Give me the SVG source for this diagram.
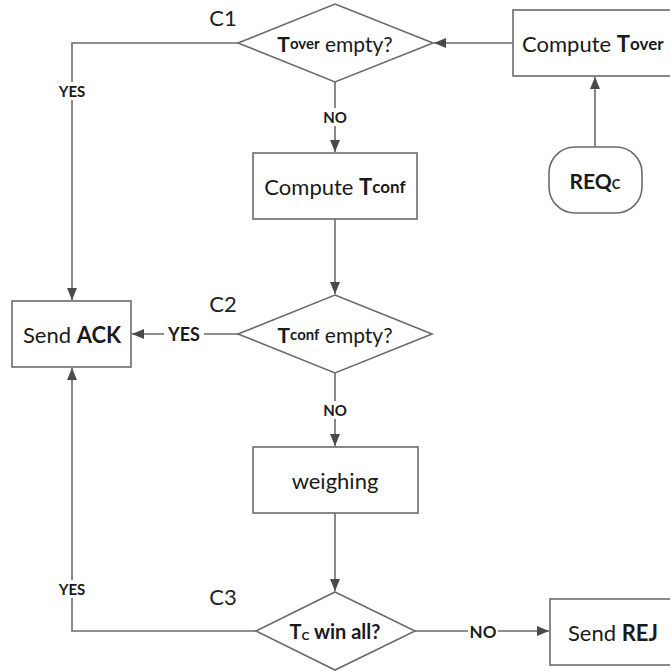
<svg xmlns="http://www.w3.org/2000/svg" width="670" height="672" viewBox="0 0 670 672">
  <style>
    .box { fill: #ffffff; stroke: #6b6b6b; stroke-width: 1.6; }
    .edge { fill: none; stroke: #6b6b6b; stroke-width: 1.6; }
    .t { font-family: Lato, "Liberation Sans", sans-serif; fill: #1a1a1a; }
    .lbl { font-size: 22px; text-anchor: middle; dominant-baseline: central; }
    .b { font-weight: bold; }
    .cap { font-size: 22px; text-anchor: middle; dominant-baseline: central; fill: #222222; }
    .yn { font-size: 15px; font-weight: bold; text-anchor: middle; dominant-baseline: central; }
    .bg { fill: #ffffff; }
  </style>
  <defs>
    <marker id="arrow" viewBox="0 0 12 10" refX="12" refY="5" markerWidth="12" markerHeight="10" markerUnits="userSpaceOnUse" orient="auto">
      <path d="M0,0 L12,5 L0,10 z" fill="#4a4a4a"/>
    </marker>
  </defs>
  <rect width="670" height="672" fill="#ffffff"/>

  <g id="connectors">
    <path class="edge" d="M513,43 L434,43" marker-end="url(#arrow)"/>
    <path class="edge" d="M595,147 L595,77" marker-end="url(#arrow)"/>
    <path class="edge" d="M238,43 L72,43 L72,300" marker-end="url(#arrow)"/>
    <path class="edge" d="M335,82 L335,152" marker-end="url(#arrow)"/>
    <path class="edge" d="M335,219 L335,294" marker-end="url(#arrow)"/>
    <path class="edge" d="M238,334 L132,334" marker-end="url(#arrow)"/>
    <path class="edge" d="M335,373 L335,446" marker-end="url(#arrow)"/>
    <path class="edge" d="M335,513 L335,591" marker-end="url(#arrow)"/>
    <path class="edge" d="M256,631 L72,631 L72,368" marker-end="url(#arrow)"/>
    <path class="edge" d="M415,631 L549,631" marker-end="url(#arrow)"/>

    <rect class="bg" x="55" y="82" width="34" height="18"/>
    <text class="t yn" x="72" y="91">YES</text>
    <rect class="bg" x="321" y="108" width="28" height="18"/>
    <text class="t yn" x="335" y="117">NO</text>
    <rect class="bg" x="164" y="323" width="40" height="22"/>
    <text class="t yn" x="184" y="334" style="font-size:18px">YES</text>
    <rect class="bg" x="321" y="401" width="28" height="18"/>
    <text class="t yn" x="335" y="410">NO</text>
    <rect class="bg" x="55" y="580" width="34" height="18"/>
    <text class="t yn" x="72" y="589">YES</text>
    <rect class="bg" x="468" y="621" width="30" height="20"/>
    <text class="t yn" x="483" y="631" style="font-size:17px">NO</text>
  </g>

  <g id="compute-tover">
    <rect class="box" x="513" y="10" width="170" height="66"/>
    <text class="t" x="522" y="43" style="font-size:22px" dominant-baseline="central">Compute <tspan class="b">T</tspan><tspan class="b" style="font-size:17px">over</tspan></text>
  </g>

  <g id="req-c">
    <rect class="box" x="549" y="147" width="93" height="66" rx="26" ry="26"/>
    <text class="t b" x="595" y="180" text-anchor="middle" dominant-baseline="central" style="font-size:21px">REQ<tspan style="font-size:13px" dy="4">C</tspan></text>
  </g>

  <g id="c1">
    <polygon class="box" points="335,4 433,43 335,82 238,43"/>
    <text class="t" x="335" y="43" text-anchor="middle" dominant-baseline="central" style="font-size:21px"><tspan class="b">T</tspan><tspan class="b" style="font-size:15px">over</tspan> empty?</text>
    <text class="t cap" x="223" y="17">C1</text>
  </g>

  <g id="compute-tconf">
    <rect class="box" x="253" y="153" width="164" height="66"/>
    <text class="t" x="335" y="186" text-anchor="middle" dominant-baseline="central" style="font-size:22px">Compute <tspan class="b">T</tspan><tspan class="b" style="font-size:17px">conf</tspan></text>
  </g>

  <g id="c2">
    <polygon class="box" points="335,295 432,334 335,373 238,334"/>
    <text class="t" x="335" y="334" text-anchor="middle" dominant-baseline="central" style="font-size:21px"><tspan class="b">T</tspan><tspan class="b" style="font-size:15px">conf</tspan> empty?</text>
    <text class="t cap" x="223" y="303">C2</text>
  </g>

  <g id="send-ack">
    <rect class="box" x="12" y="301" width="119" height="66"/>
    <text class="t lbl" x="72" y="334">Send <tspan class="b">ACK</tspan></text>
  </g>

  <g id="weighing">
    <rect class="box" x="253" y="447" width="165" height="66"/>
    <text class="t lbl" x="335" y="480">weighing</text>
  </g>

  <g id="c3">
    <polygon class="box" points="335,592 415,631 335,670 256,631"/>
    <text class="t b" x="335" y="631" text-anchor="middle" dominant-baseline="central" style="font-size:20px">T<tspan style="font-size:12px" dy="4">C</tspan><tspan dy="-4"> win all?</tspan></text>
    <text class="t cap" x="223" y="596">C3</text>
  </g>

  <g id="send-rej">
    <rect class="box" x="550" y="599" width="130" height="66"/>
    <text class="t" x="568" y="632" dominant-baseline="central" style="font-size:22px">Send <tspan class="b">REJ</tspan></text>
  </g>
</svg>
